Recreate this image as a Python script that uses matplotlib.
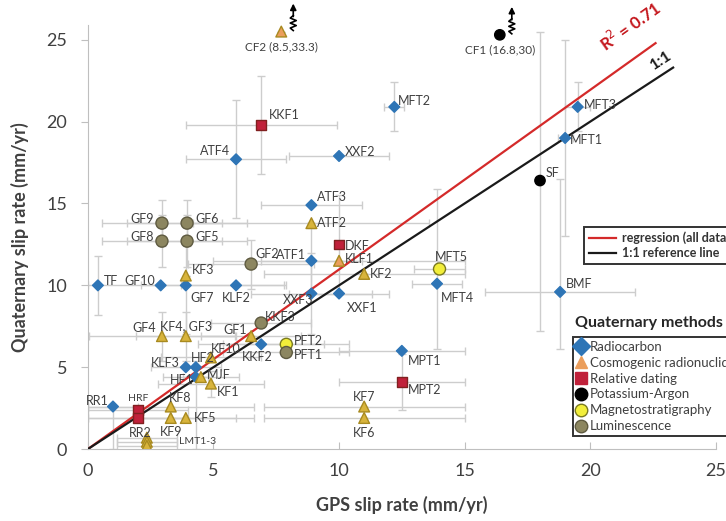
import numpy as np
import matplotlib
matplotlib.use('Agg')
import matplotlib.pyplot as plt
from matplotlib.lines import Line2D
import matplotlib.transforms as mtransforms

plt.rcParams['font.family'] = ['Lato', 'DejaVu Sans']

# site data: GPS rate, Quaternary rate, errors, dating method
names = ['TF', 'GF10', 'GF7', 'KLF2', 'ATF1', 'ATF3', 'ATF4', 'XXF2', 'MFT2', 'MFT3',
         'MFT1', 'MFT4', 'BMF', 'XXF3', 'XXF1', 'KKF2', 'KLF3', 'HF2', 'HF1', 'MPT1', 'RR1',
         'CF2 (8.5,33.3)', 'ATF2', 'KLF1', 'KF2', 'KF3', 'GF4', 'KF4, GF3', 'GF1', 'KF10',
         'MJF', 'KF1', 'KF8', 'KF9', 'KF5', 'KF7', 'KF6', 'LMT1-3', '', '',
         'KKF1', 'DKF', 'HRF', 'RR2', 'MPT2',
         'CF1 (16.8,30)', 'SF',
         'PFT2', 'MFT5',
         'GF9', 'GF6', 'GF8', 'GF5', 'GF2', 'KKF3', 'PFT1']
gps = [0.4, 2.9, 3.9, 5.9, 8.9, 8.9, 5.9, 10.0, 12.2, 19.5,
       19.0, 13.9, 18.8, 8.9, 10.0, 6.9, 3.9, 4.3, 4.3, 12.5, 1.0,
       7.7, 8.9, 10.0, 11.0, 3.9, 2.95, 3.9, 6.5, 4.9,
       4.5, 4.9, 3.3, 3.3, 3.9, 11.0, 11.0, 2.35, 2.35, 2.35,
       6.9, 10.0, 2.0, 2.0, 12.5,
       16.4, 18.0,
       7.9, 14.0,
       2.95, 3.95, 2.95, 3.95, 6.5, 6.9, 7.9]
quat = [10.0, 10.0, 10.0, 10.0, 11.5, 14.9, 17.7, 17.9, 20.9, 20.9,
        19.0, 10.1, 9.6, 9.5, 9.5, 6.4, 5.0, 5.0, 4.4, 6.0, 2.6,
        25.5, 13.8, 11.5, 10.7, 10.6, 6.9, 6.9, 6.9, 5.6,
        4.4, 4.0, 2.6, 1.9, 1.9, 2.6, 1.9, 0.7, 0.45, 0.2,
        19.8, 12.5, 2.4, 1.9, 4.1,
        25.3, 16.4,
        6.4, 11.0,
        13.8, 13.8, 12.7, 12.7, 11.3, 7.7, 5.9]
gps_err = [0, 0.8, 3.9, 2.0, 2.0, 2.0, 2.0, 2.0, 0.4, 0.5,
           0.3, 1.0, 3.0, 2.4, 2.0, 2.5, 1.4, 0, 0.5, 2.5, 1.0,
           0, 4.7, 5.0, 4.0, 0, 2.9, 2.0, 2.0, 2.0,
           1.5, 2.1, 3.3, 3.3, 2.0, 4.0, 4.0, 1.2, 1.2, 1.2,
           3.0, 0, 2.0, 2.0, 2.5,
           0, 0,
           2.5, 1.0,
           2.4, 2.4, 2.4, 2.4, 2.5, 2.0, 2.5]
quat_err_lo = [1.8, 0, 3.0, 0, 2.0, 0, 3.6, 0, 1.5, 1.5,
               6.0, 4.0, 3.5, 2.5, 0, 0, 0, 0, 4.4, 0, 2.6,
               0, 0, 0, 0, 0, 1.5, 1.5, 0, 0,
               0, 0.8, 0, 0, 0, 0, 0, 0, 0, 0,
               3.0, 3.0, 0, 0, 1.7,
               0, 9.2,
               0, 0,
               1.4, 1.4, 1.6, 1.6, 1.5, 0, 0]
quat_err_hi = [1.8, 0, 3.0, 0, 2.0, 0, 3.6, 0, 1.5, 1.5,
               6.0, 5.8, 6.9, 2.5, 0, 0, 0, 0, 1.0, 0, 0,
               0, 0, 0, 0, 0, 1.5, 1.5, 0, 0,
               0, 0.8, 0, 0, 0, 0, 0, 0, 0, 0,
               3.0, 3.0, 0, 0, 1.7,
               0, 9.1,
               0, 0,
               1.4, 1.4, 1.6, 1.6, 1.5, 0, 0]
method = ['C14'] * 21 + ['Cos'] * 19 + ['Rel'] * 5 + ['KAr'] * 2 + ['Mag'] * 2 + ['Lum'] * 7

methods = ['C14', 'Cos', 'Rel', 'KAr', 'Mag', 'Lum']
method_labels = ['Radiocarbon', 'Cosmogenic radionuclide', 'Relative dating',
                 'Potassium-Argon', 'Magnetostratigraphy', 'Luminescence']

reg_slope = 1.097
line_end = [22.6, 23.3]
broken = ['CF2 (8.5,33.3)', 'CF1 (16.8,30)']

style = {
    'C14': dict(marker='D', s=30, c='#2e75b6', edgecolors='#2e75b6'),
    'Cos': dict(marker='^', s=60, c='#d8b43c', edgecolors='#a88a20'),
    'Rel': dict(marker='s', s=50, c='#c0213a', edgecolors='#802020'),
    'KAr': dict(marker='o', s=55, c='black', edgecolors='black'),
    'Mag': dict(marker='o', s=75, c='#f2ee3a', edgecolors='#7a7a20'),
    'Lum': dict(marker='o', s=75, c='#8c8660', edgecolors='#5e5a40'),
}
orange_tri = ['CF2 (8.5,33.3)', 'KLF1']

# label offsets (pixels) and alignment
lab = {
    'TF': (6, 4, 'left'), 'GF10': (-6, 4, 'right'), 'GF7': (5, -13, 'left'),
    'KLF2': (0, -13, 'center'), 'ATF1': (-5, 6, 'right'), 'ATF3': (6, 8, 'left'),
    'ATF4': (-6, 8, 'right'), 'XXF2': (6, 4, 'left'), 'MFT2': (4, 6, 'left'),
    'MFT3': (6, 2, 'left'), 'MFT1': (5, -2, 'left'), 'MFT4': (4, -14, 'left'),
    'BMF': (6, 8, 'left'), 'XXF3': (2, -6, 'right'), 'XXF1': (8, -14, 'left'),
    'KKF2': (-4, -13, 'center'), 'KLF3': (-6, 4, 'right'), 'HF2': (-5, 9, 'left'),
    'HF1': (-2, -3, 'right'), 'MPT1': (6, -10, 'left'), 'RR1': (-4, 6, 'right'),
    'CF2 (8.5,33.3)': (0, -15, 'center'), 'ATF2': (6, 0, 'left'), 'KLF1': (6, 2, 'left'),
    'KF2': (6, 0, 'left'), 'KF3': (6, 6, 'left'), 'GF4': (-6, 8, 'right'),
    'KF4, GF3': (0, 10, 'center'), 'GF1': (-4, 6, 'right'), 'KF10': (0, 8, 'left'),
    'MJF': (6, 2, 'left'), 'KF1': (6, -8, 'left'), 'KF8': (-2, 9, 'left'),
    'KF9': (0, -14, 'center'), 'KF5': (8, 0, 'left'), 'KF7': (0, 10, 'center'),
    'KF6': (0, -15, 'center'), 'LMT1-3': (32, -4, 'left'),
    'KKF1': (8, 10, 'left'), 'DKF': (6, -2, 'left'), 'HRF': (0, 11, 'center'),
    'RR2': (2, -15, 'center'), 'MPT2': (6, -8, 'left'),
    'CF1 (16.8,30)': (0, -15, 'center'), 'SF': (6, 8, 'left'),
    'PFT2': (8, 3, 'left'), 'MFT5': (12, 12, 'center'),
    'GF9': (-8, 4, 'right'), 'GF6': (8, 4, 'left'), 'GF8': (-8, 4, 'right'),
    'GF5': (8, 4, 'left'), 'GF2': (4, 10, 'left'), 'KKF3': (4, 6, 'left'),
    'PFT1': (8, -3, 'left'),
}
label_size = {'HRF': 7.5, 'LMT1-3': 7.5, 'CF2 (8.5,33.3)': 8.5, 'CF1 (16.8,30)': 8.5}

fig = plt.figure(figsize=(7.26, 5.21), dpi=100)
ax = fig.add_axes([0.121, 0.138, 0.865, 0.814])
ax.set_xlim(0, 25)
ax.set_ylim(0, 25.9)

gps = np.array(gps)
quat = np.array(quat)

# error bars
ax.errorbar(gps, quat, xerr=gps_err, yerr=[quat_err_lo, quat_err_hi], fmt='none',
            ecolor='#cdcdcd', elinewidth=1, capsize=3, capthick=1, zorder=1)

# regression and 1:1 lines
xr = np.linspace(0, line_end[0], 2)
ax.plot(xr, reg_slope * xr, color='#d42a2a', lw=1.6, zorder=3)
x1 = np.linspace(0, line_end[1], 2)
ax.plot(x1, x1, color='#1a1a1a', lw=1.6, zorder=3)
ax.text(20.7, 24.1, 'R$^2$ = 0.71', color='#c4161c', fontsize=12, fontweight='bold',
        rotation=np.degrees(np.arctan(reg_slope)), transform_rotates_text=True,
        rotation_mode='anchor', ha='left', va='bottom')
ax.text(22.6, 23.0, '1:1', color='#1a1a1a', fontsize=11.5, fontweight='bold',
        rotation=45, transform_rotates_text=True, rotation_mode='anchor',
        ha='left', va='bottom')

meth = np.array(method)
for m in methods:
    idx = np.where(meth == m)[0]
    st = dict(style[m])
    cols = []
    for i in idx:
        if m == 'Cos' and names[i] in orange_tri:
            cols.append('#eb9e5c')
        else:
            cols.append(st['c'])
    st['c'] = cols
    ax.scatter(gps[idx], quat[idx], zorder=5, linewidths=1, **st)

for i, n in enumerate(names):
    if n == '':
        continue
    dx, dy, ha = lab[n]
    ax.annotate(n, (gps[i], quat[i]), xytext=(dx, dy), textcoords='offset pixels',
                ha=ha, va='center', fontsize=label_size.get(n, 9), color='#404040',
                zorder=6)

# broken-axis arrows for off-scale points
zz = np.array([[0, 0], [-3, 2.5], [3, 5], [-3, 7.5], [3, 10], [-3, 12.5], [0, 15]])
for n in broken:
    i = names.index(n)
    bx, by = ax.transData.transform((gps[i], quat[i]))
    pts = np.array([bx + 12, by + 1]) + zz
    ax.add_line(Line2D(pts[:, 0], pts[:, 1], transform=mtransforms.IdentityTransform(),
                       color='black', lw=1.2, clip_on=False))
    ax.annotate('', xy=(bx + 12, by + 28), xycoords='figure pixels',
                xytext=(bx + 12, by + 15), textcoords='figure pixels',
                arrowprops=dict(arrowstyle='-|>', color='black', lw=1.2,
                                shrinkA=0, shrinkB=0, mutation_scale=9),
                annotation_clip=False)

ax.set_xticks([0, 5, 10, 15, 20, 25])
ax.set_yticks([0, 5, 10, 15, 20, 25])
for s in ['top', 'right']:
    ax.spines[s].set_visible(False)
for s in ['left', 'bottom']:
    ax.spines[s].set_color('#bfbfbf')
ax.tick_params(colors='#bfbfbf', labelcolor='#404040', labelsize=13, length=5)
ax.tick_params(axis='x', direction='in', pad=10)
ax.tick_params(axis='y', direction='out', pad=10)
ax.set_xlabel('GPS slip rate (mm/yr)', fontsize=13, fontweight='bold', color='#404040',
              labelpad=12)
ax.set_ylabel('Quaternary slip rate (mm/yr)', fontsize=13, fontweight='bold',
              color='#404040', labelpad=12)

# legends
lh = [Line2D([], [], color='#d42a2a', lw=1.6), Line2D([], [], color='#1a1a1a', lw=1.6)]
leg1 = fig.legend(lh, ['regression (all data)', '1:1 reference line'], loc='upper left',
                  bbox_to_anchor=(578 / 726, 1 - 221 / 521), frameon=True, fancybox=False,
                  edgecolor='black', handlelength=2.2, handletextpad=0.5, borderpad=0.35,
                  labelspacing=0.25, prop={'weight': 'bold', 'size': 9})
leg1.get_frame().set_linewidth(1.4)
for t in leg1.get_texts():
    t.set_color('#333333')

mh = []
for m in methods:
    st = style[m]
    fc = '#eb9e5c' if m == 'Cos' else st['c']
    ec = st['edgecolors'] if m in ('Mag', 'Lum') else fc
    mh.append(Line2D([], [], marker=st['marker'], linestyle='none', markersize=9,
                     markerfacecolor=fc, markeredgecolor=ec))
leg2 = fig.legend(mh, method_labels, loc='upper left',
                  bbox_to_anchor=(570 / 726, 1 - 334 / 521), frameon=True, fancybox=False,
                  edgecolor='black', fontsize=9.5, handlelength=0.7, handletextpad=0.3,
                  borderpad=0.3, borderaxespad=0.2, labelspacing=0.3)
leg2.get_frame().set_linewidth(1.4)
for t in leg2.get_texts():
    t.set_color('#404040')
fig.text(575 / 726, 1 - 323 / 521, 'Quaternary methods', fontsize=11.5, fontweight='bold',
         color='#262626', va='center')

fig.savefig('out.png', dpi=100)
